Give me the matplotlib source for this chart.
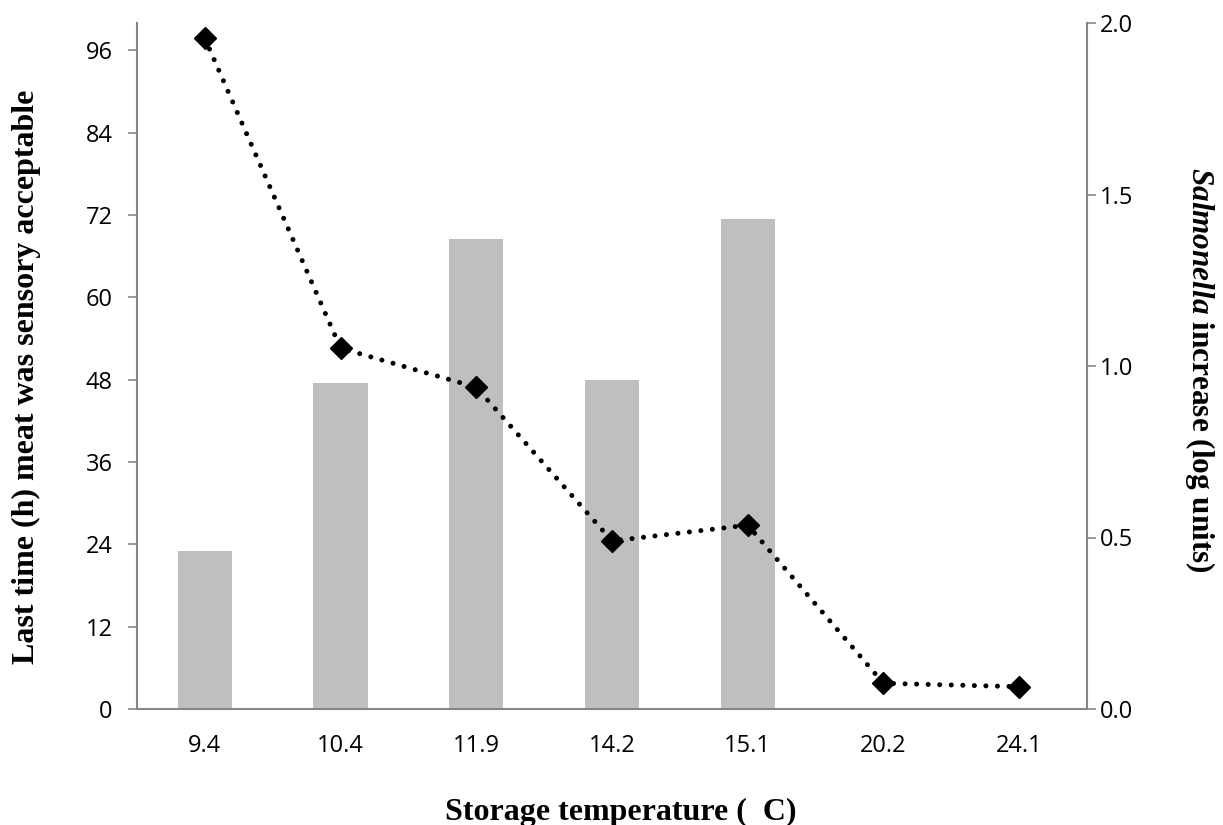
import matplotlib
matplotlib.use("Agg")
import matplotlib.pyplot as plt
import numpy as np

# Data
temperatures = ["9.4", "10.4", "11.9", "14.2", "15.1", "20.2", "24.1"]
sensory_hours = [23.0, 47.5, 68.5, 48.0, 71.4, 0.0, 0.0]
salmonella_increase = [1.955, 1.052, 0.938, 0.490, 0.536, 0.075, 0.065]
left_ticks = [0, 12, 24, 36, 48, 60, 72, 84, 96]
right_ticks = [0.0, 0.5, 1.0, 1.5, 2.0]

plt.rcParams['mathtext.fontset'] = 'custom'
plt.rcParams['mathtext.it'] = 'Liberation Serif:italic:bold'
plt.rcParams['mathtext.rm'] = 'Liberation Serif:bold'
plt.rcParams['mathtext.bf'] = 'Liberation Serif:bold'

fig = plt.figure(figsize=(12.23, 8.25), dpi=100)
ax = fig.add_axes([137/1223, 1-709/825, (1087-137)/1223, (709-23)/825])

spine_col = '#868686'
tick_size = 17
x = np.arange(len(temperatures))
ax.bar(x, sensory_hours, width=0.4, color='#BFBFBF', zorder=1)
ax.set_xlim(-0.5, len(temperatures)-0.5)
ax.set_ylim(0, 100)
ax.set_yticks(left_ticks)
ax.set_yticklabels([str(t) for t in left_ticks])
ax.set_xticks(x)
ax.set_xticklabels(temperatures)

for lab in ax.get_xticklabels() + ax.get_yticklabels():
    lab.set_fontfamily('Open Sans'); lab.set_fontsize(tick_size)
ax.tick_params(axis='x', length=0, pad=18, colors='black')
ax.tick_params(axis='y', length=6.5, width=1.2, color=spine_col, pad=11)

for s in ['top', 'right']:
    ax.spines[s].set_visible(False)
for s in ['left', 'bottom']:
    ax.spines[s].set_color(spine_col)
    ax.spines[s].set_linewidth(1.5)

ax2 = ax.twinx()
ax2.set_ylim(0, 2.0)
ax2.set_yticks(right_ticks)
ax2.set_yticklabels([f"{t:.1f}" for t in right_ticks])
for lab in ax2.get_yticklabels():
    lab.set_fontfamily('Open Sans'); lab.set_fontsize(tick_size)
ax2.tick_params(axis='y', length=6.5, width=1.2, color=spine_col, pad=3)
for s in ['top', 'left', 'bottom']:
    ax2.spines[s].set_visible(False)
ax2.spines['right'].set_color(spine_col)
ax2.spines['right'].set_linewidth(1.5)

ax2.plot(x, salmonella_increase, color='black', linestyle=(0, (0.01, 2.3)),
         linewidth=3.6, dash_capstyle='round', marker='D', markersize=11,
         markerfacecolor='black', markeredgecolor='black', zorder=3)

fig.text(26/1223, 1-377/825, 'Last time (h) meat was sensory acceptable',
         rotation=90, ha='center', va='center', family='Liberation Serif',
         weight='bold', size=23)
fig.text(1200/1223, 1-370/825, r'$\mathit{Salmonella}$ increase (log units)',
         rotation=270, ha='center', va='center', family='Liberation Serif',
         weight='bold', size=22.5)
fig.text(621/1223, 1-820/825, 'Storage temperature (  C)', ha='center', va='baseline',
         family='Liberation Serif', weight='bold', size=23)

fig.savefig('out.png', dpi=100)
